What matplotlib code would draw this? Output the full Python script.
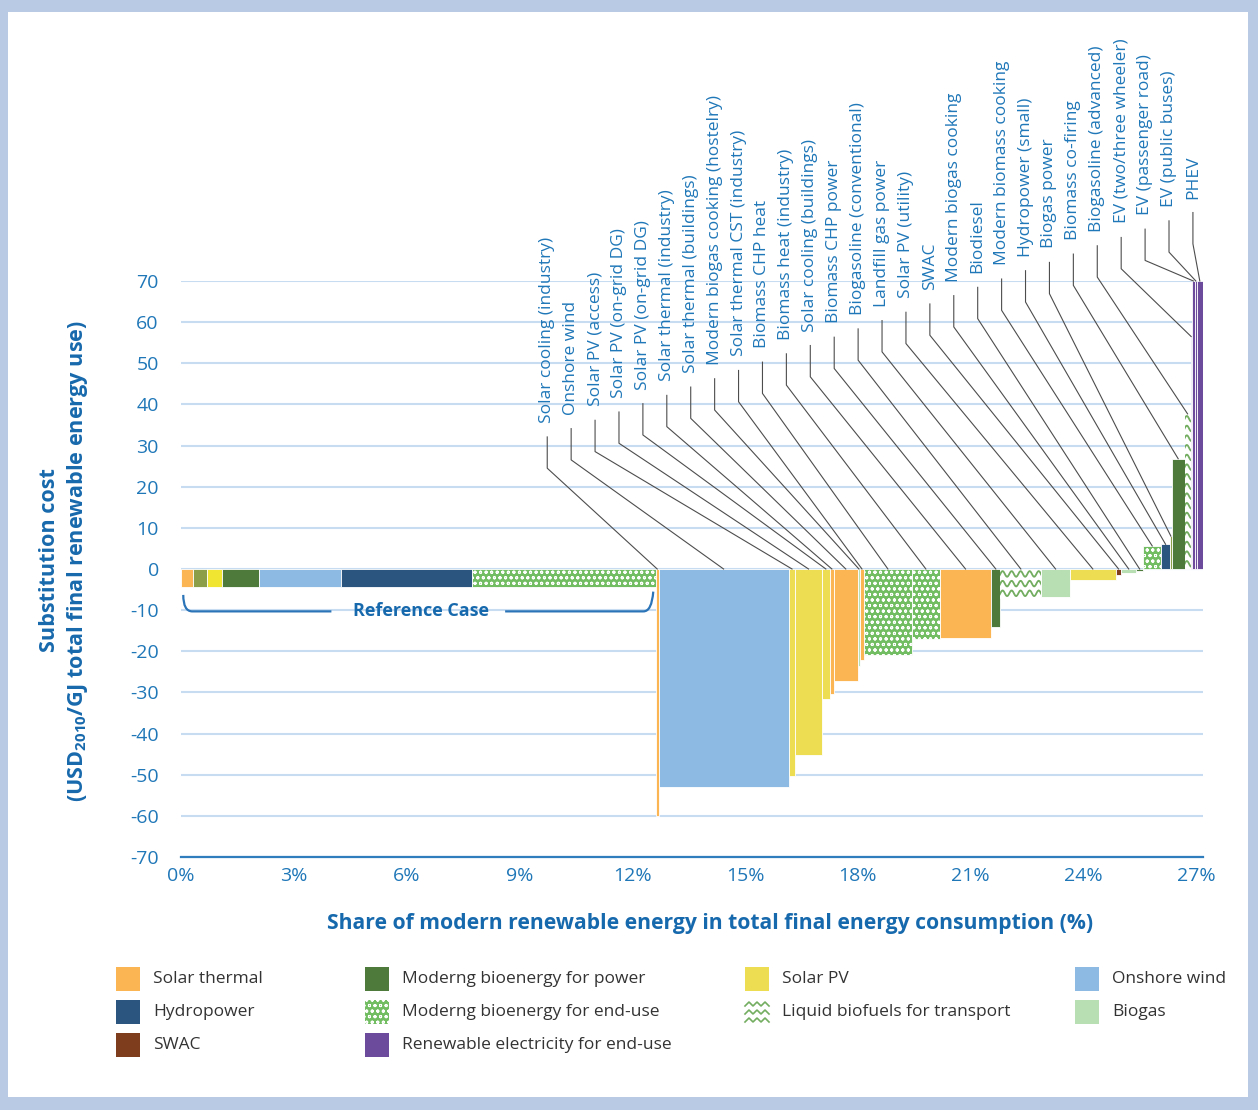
import matplotlib
matplotlib.use("Agg")
import matplotlib.pyplot as plt
import numpy as np
from matplotlib.patches import Rectangle, PathPatch
from matplotlib.path import Path
from matplotlib.lines import Line2D

plt.rcParams['font.family'] = ['Open Sans', 'DejaVu Sans']
plt.rcParams['mathtext.fontset'] = 'custom'
plt.rcParams['mathtext.rm'] = 'Open Sans'
plt.rcParams['mathtext.bf'] = 'Open Sans:bold'
plt.rcParams['hatch.linewidth'] = 0.7

# ---------------- data ----------------
ref_groups = ['Solar thermal', 'Ref olive', 'Ref yellow', 'Moderng bioenergy for power',
              'Onshore wind', 'Hydropower', 'Moderng bioenergy for end-use']
ref_widths = [0.31, 0.38, 0.39, 1.00, 2.17, 3.50, 4.88]
ref_values = [-4.3, -4.3, -4.3, -4.3, -4.3, -4.3, -4.3]

opt_labels = ['Solar cooling (industry)', 'Onshore wind', 'Solar PV (access)',
              'Solar PV (on-grid DG)', 'Solar PV (on-grid DG)', 'Solar thermal (industry)',
              'Solar thermal (buildings)', 'Modern biogas cooking (hostelry)',
              'Solar thermal CST (industry)', 'Biomass CHP heat', 'Biomass heat (industry)',
              'Solar cooling (buildings)', 'Biomass CHP power', 'Biogasoline (conventional)',
              'Landfill gas power', 'Solar PV (utility)', 'SWAC', 'Modern biogas cooking',
              'Biodiesel', 'Modern biomass cooking', 'Hydropower (small)', 'Biogas power',
              'Biomass co-firing', 'Biogasoline (advanced)', 'EV (two/three wheeler)',
              'EV (passenger road)', 'EV (public buses)', 'PHEV']
opt_groups = ['Solar thermal', 'Onshore wind', 'Solar PV', 'Solar PV', 'Solar PV',
              'Solar thermal', 'Solar thermal', 'Biogas', 'Solar thermal',
              'Moderng bioenergy for end-use', 'Moderng bioenergy for end-use',
              'Solar thermal', 'Moderng bioenergy for power', 'Liquid biofuels for transport',
              'Biogas', 'Solar PV', 'SWAC', 'Biogas', 'Moderng bioenergy for power',
              'Moderng bioenergy for end-use', 'Hydropower', 'Ref olive',
              'Moderng bioenergy for power', 'Liquid biofuels for transport',
              'Renewable electricity for end-use', 'Renewable electricity for end-use',
              'Renewable electricity for end-use', 'Renewable electricity for end-use']
opt_widths = [0.07, 3.46, 0.18, 0.70, 0.22, 0.10, 0.64, 0.06, 0.10, 1.28, 0.74, 1.37,
              0.24, 1.09, 0.76, 1.22, 0.15, 0.39, 0.19, 0.48, 0.23, 0.05, 0.34, 0.16,
              0.03, 0.09, 0.04, 0.17]
opt_values = [-60.0, -53.0, -50.2, -45.3, -31.7, -30.4, -27.3, -23.5, -22.0, -20.8, -17.1,
              -16.7, -14.0, -7.1, -6.7, -2.7, -1.5, -1.0, -0.6, 5.6, 6.0, 8.0, 26.8, 37.7,
              56.5, 70.0, 70.0, 70.0]

x_ticks = [0, 3, 6, 9, 12, 15, 18, 21, 24, 27]
y_ticks = [-70, -60, -50, -40, -30, -20, -10, 0, 10, 20, 30, 40, 50, 60, 70]

legend_cols = [['Solar thermal', 'Hydropower', 'SWAC'],
               ['Moderng bioenergy for power', 'Moderng bioenergy for end-use',
                'Renewable electricity for end-use'],
               ['Solar PV', 'Liquid biofuels for transport'],
               ['Onshore wind', 'Biogas']]

# ---------------- styles ----------------
COLORS = {
    'Solar thermal': '#fbb552',
    'Hydropower': '#2b557f',
    'SWAC': '#7e3d1c',
    'Moderng bioenergy for power': '#4e7a3c',
    'Moderng bioenergy for end-use': '#72bd62',
    'Renewable electricity for end-use': '#6c4a9c',
    'Solar PV': '#ecdd52',
    'Liquid biofuels for transport': '#ffffff',
    'Onshore wind': '#8dbae3',
    'Biogas': '#b8deb3',
    'Ref olive': '#8c9f48',
    'Ref yellow': '#f0e632',
}
HATCH = {'Moderng bioenergy for end-use': 'ooo'}
WAVE = '#72ad60'
BLUE = '#1f77b8'
DARKBLUE = '#1769ad'

W, H = 1258, 1110
def fx(px):
    return np.asarray(px) / W
def fy(py):
    return 1 - np.asarray(py) / H

fig = plt.figure(figsize=(W / 100, H / 100), dpi=100)
fig.patch.set_facecolor('#b9cae4')
fig.add_artist(Rectangle((fx(8), fy(1097)), fx(1248) - fx(8), fy(12) - fy(1097),
                         transform=fig.transFigure, facecolor='white', edgecolor='none',
                         zorder=-10))

ax = fig.add_axes([fx(181), fy(857), fx(1203) - fx(181), fy(281) - fy(857)])
ax.set_facecolor('none')
XMAX = sum(ref_widths) + sum(opt_widths)
ax.set_xlim(0, XMAX)
ax.set_ylim(-70, 70)


def draw_waves(patch, x0, w, v):
    # wavy hatch pattern clipped to the bar
    per = 0.24
    amp = 0.7
    step = 2.35
    lo, hi = min(0, v), max(0, v)
    xs = np.linspace(x0 - per, x0 + w + per, max(40, int(w / per * 16)))
    yrow = hi - 1.2
    while yrow > lo - 2:
        ys = yrow + amp * np.sin(2 * np.pi * (xs - x0) / per)
        ln, = ax.plot(xs, ys, color=WAVE, lw=1.3, zorder=3)
        ln.set_clip_path(patch)
        yrow -= step


def draw_bars(groups, widths, values, start):
    lefts = start + np.concatenate([[0], np.cumsum(widths)[:-1]])
    bars = ax.bar(lefts, values, width=widths, align='edge',
                  color=[COLORS[g] for g in groups], edgecolor='white', linewidth=0.6,
                  zorder=2)
    for b, g, l, w, v in zip(bars, groups, lefts, widths, values):
        if g in HATCH:
            b.set_hatch(HATCH[g])
        if g == 'Liquid biofuels for transport':
            draw_waves(b, l, w, v)
    return lefts


draw_bars(ref_groups, ref_widths, ref_values, 0.0)
opt_lefts = draw_bars(opt_groups, opt_widths, opt_values, sum(ref_widths))
opt_centers = opt_lefts + np.array(opt_widths) / 2

# ---------------- axes styling ----------------
ax.set_yticks(y_ticks)
ax.set_yticklabels([str(t) for t in y_ticks])
ax.set_xticks(x_ticks)
ax.set_xticklabels([f'{t}%' for t in x_ticks])
ax.tick_params(axis='both', length=0, colors=BLUE, labelsize=14)
ax.tick_params(axis='y', pad=16)
ax.tick_params(axis='x', pad=7)
ax.yaxis.grid(True, color='#c8dcf1', lw=1.5)
ax.set_axisbelow(True)
for s in ['top', 'right', 'left']:
    ax.spines[s].set_visible(False)
ax.spines['bottom'].set_color('#2f7dbc')
ax.spines['bottom'].set_linewidth(1.6)

# ---------------- option labels with leader lines ----------------
LX0, LDX = 9.74, 0.636
LY0, LDY = 35.5, 2.02
for i, (lab, c, v) in enumerate(zip(opt_labels, opt_centers, opt_values)):
    xl = LX0 + i * LDX
    yb = LY0 + i * LDY
    ytop = min(max(v, 0), 70)
    ax.plot([xl, xl, c], [yb - 3.4, yb - 11.0, ytop], color='#4d4d4d', lw=0.8,
            clip_on=False, zorder=6)
    ax.text(xl, yb, lab, rotation=90, ha='center', va='bottom', color=BLUE,
            fontsize=12.5, clip_on=False)

# ---------------- reference case bracket ----------------
bl = Path([(0.06, -6.3), (0.06, -10.3), (0.30, -10.3), (4.0, -10.3)],
          [Path.MOVETO, Path.CURVE3, Path.CURVE3, Path.LINETO])
br = Path([(8.62, -10.3), (12.3, -10.3), (12.52, -10.3), (12.56, -5.5)],
          [Path.MOVETO, Path.LINETO, Path.CURVE3, Path.CURVE3])
for p in (bl, br):
    ax.add_patch(PathPatch(p, fill=False, edgecolor='#2b74b7', lw=1.6, zorder=4))
ax.text(6.38, -10.3, 'Reference Case', ha='center', va='center', color=DARKBLUE,
        fontsize=13, fontweight='bold')

# ---------------- axis titles ----------------
fig.text(fx(710), fy(923), 'Share of modern renewable energy in total final energy consumption (%)',
         ha='center', va='center', color=DARKBLUE, fontsize=15.2, fontweight='bold')
fig.text(fx(50), fy(560), 'Substitution cost', rotation=90, ha='center', va='center',
         color=DARKBLUE, fontsize=15.6, fontweight='bold')
fig.text(fx(78), fy(561), r'(USD$_{\mathbf{2010}}$/GJ total final renewable energy use)',
         rotation=90, ha='center', va='center', color=DARKBLUE, fontsize=15.6,
         fontweight='bold')

# ---------------- legend ----------------
col_marker_x = [116, 365, 745, 1075]
row_y = [979, 1012, 1045]
MS = 24
for ci, names in enumerate(legend_cols):
    for ri, name in enumerate(names):
        x0 = col_marker_x[ci]
        yc = row_y[ri]
        if name == 'Liquid biofuels for transport':
            for k in range(3):
                xs = np.linspace(x0, x0 + MS, 80)
                tri = np.abs(((xs - x0) / 8.0) % 1 - 0.5) * 2  # 1 at ends, 0 mid
                ys = yc - 10 + k * 8 + 4.0 * tri
                fig.add_artist(Line2D(fx(xs), fy(ys), color=WAVE, lw=1.2,
                                      transform=fig.transFigure))
        else:
            r = Rectangle((fx(x0), fy(yc + MS / 2)), MS / W, MS / H,
                          transform=fig.transFigure, facecolor=COLORS[name],
                          edgecolor='white' if name in HATCH else 'none', lw=0,
                          hatch=HATCH.get(name))
            fig.add_artist(r)
        fig.text(fx(x0 + 37), fy(yc), name, ha='left', va='center', color='#333333',
                 fontsize=12.5)

fig.savefig('out.png', dpi=100, facecolor=fig.get_facecolor())
